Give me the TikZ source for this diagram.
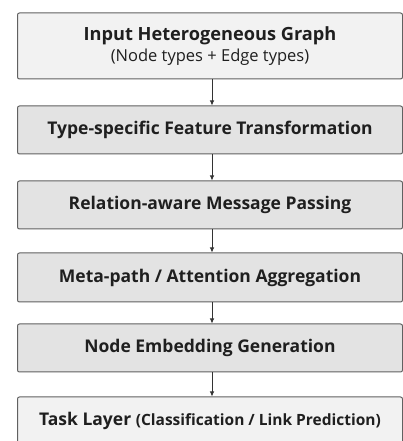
\documentclass[tikz,border=0pt]{standalone}
\usepackage{fontspec}
\setmainfont{Open Sans}
\usetikzlibrary{arrows.meta}
\begin{document}
\begin{tikzpicture}[x=1pt,y=1pt,
  stage/.style={draw=black!62, line width=1pt, rounded corners=2pt,
    minimum width=385pt, inner sep=0pt, align=center,
    font=\bfseries\fontsize{17.5}{22}\selectfont, text=black!88},
  light/.style={stage, fill=black!5},
  mid/.style={stage, fill=black!11},
  flow/.style={-{Latex[length=5pt,width=4.5pt]}, draw=black!80, line width=0.8pt}]
\useasboundingbox (0,0) rectangle (403,441);
\fill[white] (0,0) rectangle (403,441);
\begin{scope}
\clip (0,0) rectangle (403,441);
\node[light, minimum height=66pt] (n1) at (210,395)
  {{\fontsize{18.2}{22}\selectfont Input Heterogeneous Graph}\\[-1pt]{\mdseries\fontsize{16.5}{20}\selectfont (Node types + Edge types)}};
\node[mid, minimum height=48pt] (n2) at (210,311) {Type-specific Feature Transformation};
\node[mid, minimum height=48pt] (n3) at (210,236) {Relation-aware Message Passing};
\node[mid, minimum height=49pt] (n4) at (210,163.5) {Meta-path / Attention Aggregation};
\node[mid, minimum height=48pt] (n5) at (210,93) {Node Embedding Generation};
\node[light, minimum height=48pt] (n6) at (210,20)
  {Task Layer {\fontsize{15.5}{20}\selectfont (Classification / Link Prediction)}};
\end{scope}
\draw[flow] ([xshift=2pt]n1.south) -- ([xshift=2pt]n2.north);
\draw[flow] ([xshift=2pt]n2.south) -- ([xshift=2pt]n3.north);
\draw[flow] ([xshift=2pt]n3.south) -- ([xshift=2pt]n4.north);
\draw[flow] ([xshift=2pt]n4.south) -- ([xshift=2pt]n5.north);
\draw[flow] ([xshift=2pt]n5.south) -- ([xshift=2pt]n6.north);
\end{tikzpicture}
\end{document}
